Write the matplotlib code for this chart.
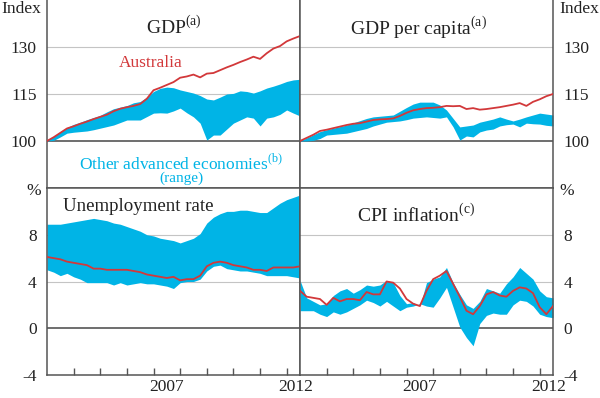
import matplotlib
matplotlib.use("Agg")
import matplotlib.pyplot as plt
import numpy as np

plt.rcParams['font.family'] = ['Liberation Serif', 'DejaVu Serif']
plt.rcParams['mathtext.fontset'] = 'custom'
plt.rcParams['mathtext.rm'] = 'Liberation Serif'

# quarterly observations, 2003 Q1 to mid 2012
quarters = [2003 + q / 4 for q in range(39)]

# GDP index (2003 = 100)
gdp_aus = [100, 101.2, 102.6, 104, 104.7, 105.5, 106.2, 107, 107.7, 108.4,
           109.5, 110.3, 110.8, 111.2, 111.8, 113.5, 116.2, 117, 117.9, 118.8,
           120.2, 120.6, 121.2, 120.3, 121.5, 121.7, 122.6, 123.5, 124.3, 125.2,
           126, 126.9, 126.2, 128, 129.5, 130.3, 131.8, 132.7, 133.5]
gdp_hi = [100, 101.5, 103, 104.3, 105.3, 106, 106.8, 107.5, 108.2, 109.3,
          110.3, 110.8, 111.3, 112.2, 112.6, 114, 115.8, 116.8, 117.2, 117,
          116.3, 115.8, 115.3, 114.5, 113.4, 113.1, 114, 115, 115.2, 116,
          115.8, 115.3, 116, 116.9, 117.5, 118.2, 119, 119.5, 119.7]
gdp_lo = [100, 100.2, 101.3, 102.5, 102.8, 103, 103.2, 103.6, 104.1, 104.6,
          105.1, 105.9, 106.7, 106.7, 106.7, 107.8, 108.9, 109, 108.9, 109.6,
          110.5, 109, 107.7, 105.7, 100.3, 101.9, 101.9, 103.8, 105.7, 106.7,
          107.7, 107.3, 104.8, 107.3, 107.7, 108.5, 109.9, 108.9, 108]

# GDP per capita index
gdppc_aus = [100, 101, 102, 103.2, 103.6, 104.1, 104.6, 105.1, 105.5, 105.7,
             106.2, 106.7, 106.9, 107, 107.2, 108, 109, 109.8, 110.2, 110.5,
             110.6, 110.8, 111.2, 111.1, 111.2, 110.2, 110.5, 110, 110.2, 110.5,
             110.8, 111.2, 111.6, 112.1, 111.2, 112.5, 113.3, 114.3, 115]
gdppc_hi = [100, 101, 102, 103, 103.6, 104.1, 104.6, 105.1, 105.8, 106.5,
            107.2, 107.7, 107.9, 108.1, 108.3, 109.5, 110.7, 111.8, 112.4, 112.4,
            112.4, 111.5, 109.9, 107.2, 104.5, 104.8, 105.1, 106, 106.5, 107,
            107.7, 107, 106.4, 107, 107.7, 108.3, 108.9, 108.6, 108.3]
gdppc_lo = [100, 100, 100.2, 100.8, 101.9, 102.1, 102.3, 102.5, 103, 103.5,
            104, 104.8, 105.4, 106, 106.2, 106.4, 106.8, 107.3, 107.5, 107.7,
            107.5, 107.3, 107.7, 104.5, 100.3, 101.6, 101.3, 102.9, 103.5, 103.8,
            104.8, 105.2, 105.4, 104.5, 105.7, 105.5, 105.4, 105, 104.8]

# unemployment rate, %
unemp_aus = [6.1, 6.0, 5.9, 5.7, 5.6, 5.5, 5.4, 5.1, 5.1, 5.0,
             5.0, 5.0, 5.0, 4.9, 4.8, 4.6, 4.5, 4.4, 4.3, 4.4,
             4.1, 4.2, 4.2, 4.5, 5.3, 5.6, 5.7, 5.6, 5.4, 5.3,
             5.2, 5.0, 5.0, 4.9, 5.2, 5.2, 5.2, 5.2, 5.3]
unemp_hi = [8.9, 8.9, 8.9, 9.0, 9.1, 9.2, 9.3, 9.4, 9.3, 9.2,
            9.0, 8.9, 8.7, 8.5, 8.3, 8.0, 7.9, 7.7, 7.6, 7.5,
            7.3, 7.5, 7.7, 8.1, 9.0, 9.5, 9.8, 10.0, 10.0, 10.1,
            10.1, 10.0, 9.9, 9.9, 10.3, 10.7, 11.0, 11.2, 11.4]
unemp_lo = [5.0, 4.8, 4.5, 4.7, 4.4, 4.2, 3.9, 3.9, 3.9, 3.9,
            3.7, 3.9, 3.7, 3.8, 3.9, 3.8, 3.8, 3.7, 3.6, 3.4,
            3.9, 4.0, 4.0, 4.2, 4.9, 5.3, 5.4, 5.1, 5.0, 4.9,
            4.9, 4.8, 4.7, 4.5, 4.5, 4.5, 4.5, 4.4, 4.3]

# CPI inflation, year-ended %
cpi_aus = [3.2, 2.7, 2.6, 2.5, 2.0, 2.6, 2.3, 2.5, 2.5, 2.4,
           3.1, 2.9, 2.9, 4.0, 3.9, 3.4, 2.5, 2.1, 1.9, 3.2,
           4.2, 4.5, 4.9, 3.8, 2.7, 1.5, 1.2, 1.9, 2.9, 3.1,
           2.8, 2.7, 3.2, 3.5, 3.4, 3.0, 1.8, 1.2, 1.9]
cpi_hi = [4.1, 2.6, 2.3, 2.0, 2.1, 2.8, 3.2, 3.4, 3.0, 3.3,
          3.7, 3.6, 3.7, 4.1, 3.9, 2.8, 2.1, 2.2, 1.9, 3.9,
          4.2, 4.4, 5.2, 3.9, 2.9, 2.0, 1.7, 2.3, 3.4, 3.2,
          3.0, 3.8, 4.4, 5.2, 4.7, 4.2, 3.2, 2.7, 2.6]
cpi_lo = [1.5, 1.5, 1.5, 1.2, 1.0, 1.4, 1.2, 1.4, 1.7, 2.0,
          2.4, 2.2, 1.9, 2.3, 1.9, 1.5, 1.8, 1.9, 2.1, 1.9,
          1.8, 2.6, 3.5, 1.8, 0.1, -0.8, -1.5, 0.4, 1.1, 1.3,
          1.2, 1.2, 2.0, 2.4, 2.3, 1.9, 1.2, 1.0, 0.9]

idx_ticks = [100, 115, 130]
pct_ticks = [-4, 0, 4, 8]
year_ticks = list(range(2004, 2013))
year_labels = ['2007', '2012']

BLUE = '#00b4e6'
RED = '#d2383a'
DARK = '#555555'
GRID = '#c4c4c4'
TXT = '#222222'
TS = 12.5  # tick label size

fig = plt.figure(figsize=(6.0, 3.98), dpi=100)
L, R = 47 / 600, 553 / 600
MID = 300 / 600
Y0, Y1, Y2 = 1 - 375 / 398, 1 - 188 / 398, 1.0

ax_gdp = fig.add_axes([L, Y1, MID - L, Y2 - Y1])
ax_pc = fig.add_axes([MID, Y1, R - MID, Y2 - Y1])
ax_un = fig.add_axes([L, Y0, MID - L, Y1 - Y0])
ax_cpi = fig.add_axes([MID, Y0, R - MID, Y1 - Y0])

panels = [
    (ax_gdp, gdp_lo, gdp_hi, gdp_aus, (85, 145), idx_ticks, 100, 'left'),
    (ax_pc, gdppc_lo, gdppc_hi, gdppc_aus, (85, 145), idx_ticks, 100, 'right'),
    (ax_un, unemp_lo, unemp_hi, unemp_aus, (-4, 12), pct_ticks, 0, 'left'),
    (ax_cpi, cpi_lo, cpi_hi, cpi_aus, (-4, 12), pct_ticks, 0, 'right'),
]

for ax, lo, hi, aus, ylim, yt, base, side in panels:
    ax.fill_between(quarters, lo, hi, color=BLUE, lw=0, zorder=2)
    ax.plot(quarters, aus, color=RED, lw=1.3, zorder=3)
    for v in yt:
        if v == base:
            ax.axhline(v, color=DARK, lw=1.2, zorder=1)
        elif v > ylim[0]:
            ax.axhline(v, color=GRID, lw=0.8, zorder=1)
    ax.set_xlim(2003, 2012.5)
    ax.set_ylim(*ylim)
    ax.set_yticks(yt)
    ax.set_yticklabels([str(v) for v in yt])
    ax.tick_params(axis='y', left=False, right=False,
                   labelleft=(side == 'left'), labelright=(side == 'right'),
                   labelsize=TS, colors=TXT, pad=4)
    for s in ax.spines.values():
        s.set_color(DARK)
        s.set_linewidth(1.1)

for ax in (ax_gdp, ax_pc):
    ax.set_xticks([])
    ax.spines['top'].set_visible(False)

for ax in (ax_un, ax_cpi):
    ax.set_xticks(year_ticks, minor=True)
    ax.set_xticks([2007.5, 2012.35])
    ax.set_xticklabels(year_labels)
    ax.tick_params(axis='x', which='minor', direction='in', length=5,
                   color=DARK, width=1)
    ax.tick_params(axis='x', which='major', length=0, labelsize=TS,
                   colors=TXT, pad=3)

# unit labels
fig.text(41 / 600, 1 - 9 / 398, 'Index', ha='right', va='center',
         fontsize=TS, color=TXT)
fig.text(559 / 600, 1 - 9 / 398, 'Index', ha='left', va='center',
         fontsize=TS, color=TXT)
fig.text(41 / 600, Y1 - 3 / 398, '%', ha='right', va='center',
         fontsize=TS, color=TXT)
fig.text(559 / 600, Y1 - 3 / 398, '%', ha='left', va='center',
         fontsize=TS, color=TXT)

# panel titles and labels
ax_gdp.text(0.5, 0.86, r'GDP$^{\rm (a)}$', transform=ax_gdp.transAxes,
            ha='center', va='center', fontsize=14, color=TXT)
ax_pc.text(0.47, 0.855, r'GDP per capita$^{\rm (a)}$', transform=ax_pc.transAxes,
           ha='center', va='center', fontsize=14, color=TXT)
ax_un.text(0.063, 0.9, 'Unemployment rate', transform=ax_un.transAxes,
           ha='left', va='center', fontsize=13.6, color=TXT)
ax_cpi.text(0.46, 0.86, r'CPI inflation$^{\rm (c)}$', transform=ax_cpi.transAxes,
            ha='center', va='center', fontsize=14, color=TXT)
ax_gdp.text(0.41, 0.665, 'Australia', transform=ax_gdp.transAxes,
            ha='center', va='center', fontsize=12.4, color=RED)
ax_gdp.text(0.53, 0.135, r'Other advanced economies$^{\rm (b)}$',
            transform=ax_gdp.transAxes, ha='center', va='center',
            fontsize=12.5, color=BLUE)
ax_gdp.text(0.53, 0.05, '(range)', transform=ax_gdp.transAxes,
            ha='center', va='center', fontsize=11, color=BLUE)

fig.savefig('out.png', dpi=100)
